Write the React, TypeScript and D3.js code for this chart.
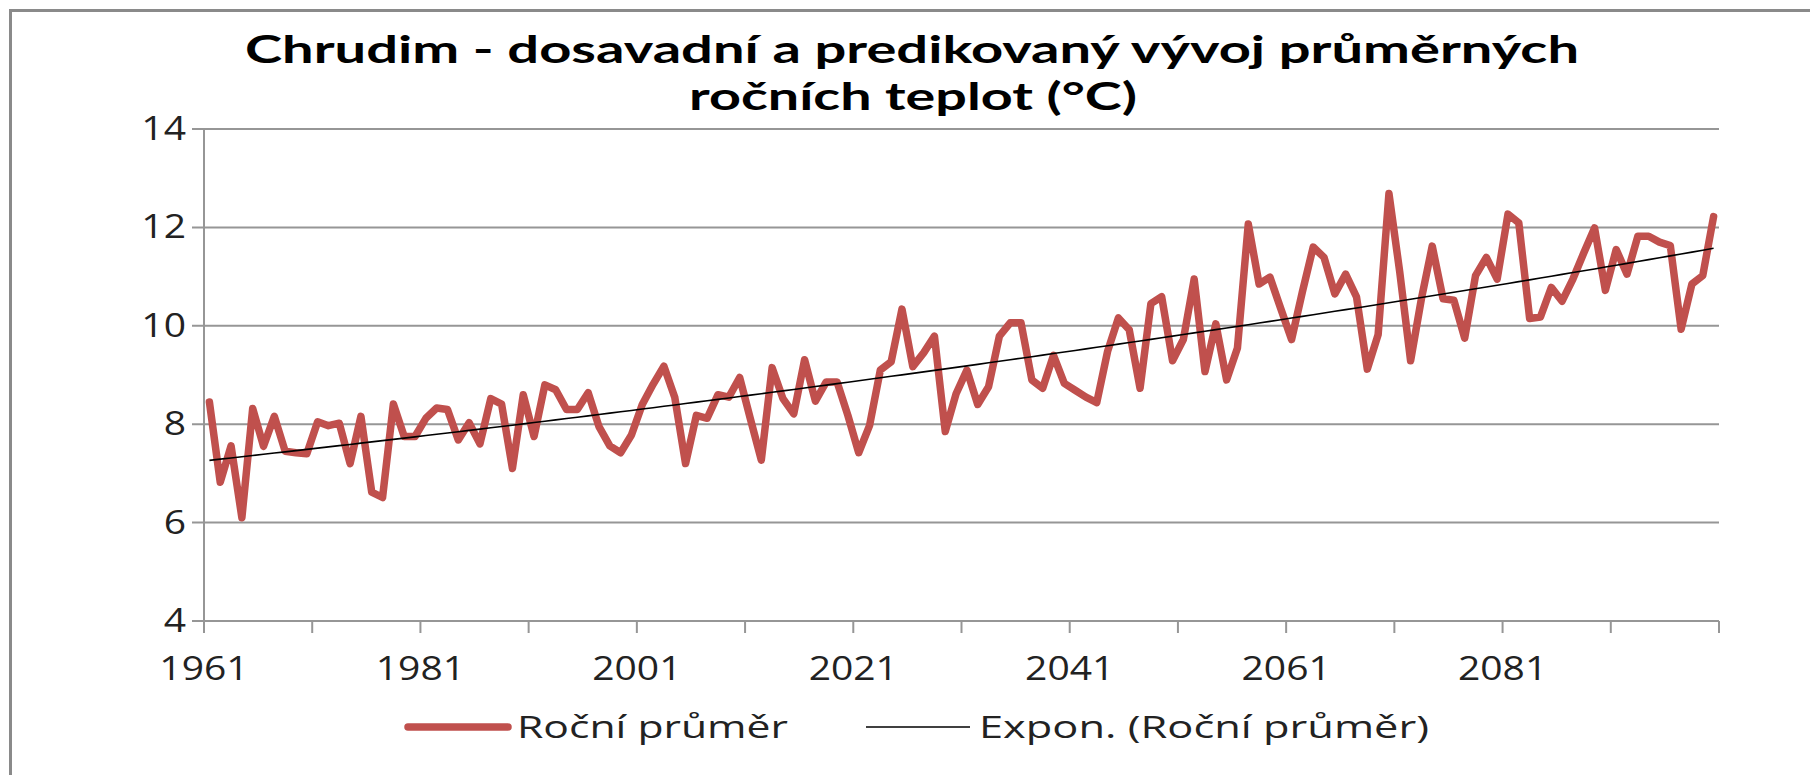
import React from 'react';
import * as d3 from 'd3';

// roční průměry 1961-2100
const years: number[] = d3.range(1961, 2101);
const annualMean: number[] = [
  8.45, 6.82, 7.56, 6.1, 8.32, 7.55, 8.16, 7.45, 7.42, 7.4,
  8.05, 7.97, 8.02, 7.2, 8.16, 6.62, 6.51, 8.41, 7.75, 7.75,
  8.12, 8.33, 8.3, 7.68, 8.03, 7.6, 8.52, 8.41, 7.1, 8.6,
  7.75, 8.8, 8.7, 8.3, 8.3, 8.64, 7.95, 7.56, 7.42, 7.78,
  8.4, 8.81, 9.18, 8.55, 7.2, 8.18, 8.12, 8.6, 8.55, 8.95,
  8.1, 7.27, 9.15, 8.52, 8.21, 9.31, 8.47, 8.86, 8.86, 8.18,
  7.42, 7.97, 9.1, 9.27, 10.34, 9.17, 9.45, 9.79, 7.85, 8.62,
  9.1, 8.4, 8.76, 9.79, 10.06, 10.06, 8.9, 8.73, 9.4, 8.83,
  8.69, 8.55, 8.44, 9.48, 10.16, 9.92, 8.73, 10.45, 10.59, 9.29,
  9.72, 10.95, 9.07, 10.04, 8.9, 9.55, 12.07, 10.85, 10.99, 10.35,
  9.72, 10.69, 11.6, 11.39, 10.65, 11.05, 10.59, 9.12, 9.82, 12.69,
  11.09, 9.29, 10.55, 11.62, 10.55, 10.52, 9.75, 11.02, 11.39, 10.95,
  12.27, 12.09, 10.15, 10.18, 10.78, 10.5, 10.95, 11.48, 11.99, 10.72,
  11.55, 11.05, 11.82, 11.82, 11.7, 11.63, 9.93, 10.85, 11.02, 12.22,
];

const yTicks: number[] = [4, 6, 8, 10, 12, 14];
const xTickYears: number[] = [1961, 1971, 1981, 1991, 2001, 2011, 2021, 2031, 2041, 2051, 2061, 2071, 2081, 2091];
const xLabelYears: number[] = [1961, 1981, 2001, 2021, 2041, 2061, 2081];

const titleLines: string[] = ['Chrudim - dosavadní a predikovaný vývoj průměrných', 'ročních teplot (°C)'];
const seriesName = 'Roční průměr';
const trendName = 'Expon. (Roční průměr)';

const W = 1810;
const H = 775;
const left = 204;
const right = 1719;
const top = 129;
const bottom = 621;
const FONT = '"Open Sans", "DejaVu Sans", sans-serif';
const TITLE_FONT = 'Lato, "Open Sans", sans-serif';
const SX = 1.22;

const App: React.FC = () => {
  const x = d3.scaleBand<number>().domain(years).range([left, right]).paddingInner(0).paddingOuter(0);
  const bw = x.bandwidth();
  const cx = (yr: number) => (x(yr) as number) + bw / 2;
  const y = d3.scaleLinear().domain([4, 14]).range([bottom, top]);

  const pts = years.map((yr, i) => ({ yr, v: annualMean[i], i: i + 1 }));

  // exponenciální trend (jako v Excelu: y = a*e^(b*x), x = 1..n)
  const mx = d3.mean(pts, (d) => d.i) as number;
  const my = d3.mean(pts, (d) => Math.log(d.v)) as number;
  const sxy = d3.sum(pts, (d) => (d.i - mx) * (Math.log(d.v) - my));
  const sxx = d3.sum(pts, (d) => (d.i - mx) ** 2);
  const b = sxy / sxx;
  const a = Math.exp(my - b * mx);
  const trend = pts.map((d) => ({ yr: d.yr, v: a * Math.exp(b * d.i) }));

  const line = d3.line<{ yr: number; v: number }>().x((d) => cx(d.yr)).y((d) => y(d.v));

  const stretched = (tx: number, ty: number) => `translate(${tx},${ty}) scale(${SX},1)`;

  return (
    <svg width={W} height={H} style={{ position: 'absolute', left: 0, top: 0, background: '#fff' }} fontFamily={FONT}>
      <rect x={0} y={0} width={W} height={H} fill="#fff" />
      {/* rámeček */}
      <path d={`M10.5,${H} V10.5 H${W}`} fill="none" stroke="#8a8a8a" strokeWidth={3} />

      {/* titulek */}
      <text x={912} y={63} textAnchor="middle" fontFamily={TITLE_FONT} fontSize={38} fontWeight="bold" fill="#000" textLength={1334} lengthAdjust="spacingAndGlyphs">
        {titleLines[0]}
      </text>
      <text x={913} y={110} textAnchor="middle" fontFamily={TITLE_FONT} fontSize={38} fontWeight="bold" fill="#000" textLength={448} lengthAdjust="spacingAndGlyphs">
        {titleLines[1]}
      </text>

      {/* mřížka + osa Y */}
      {yTicks.map((t) => (
        <g key={t}>
          <line x1={left - 12} x2={right} y1={y(t)} y2={y(t)} stroke="#969696" strokeWidth={2} />
          <text transform={stretched(186, y(t) + 11)} textAnchor="end" fontSize={32} fill="#222">
            {t}
          </text>
        </g>
      ))}
      <line x1={left} x2={left} y1={top} y2={bottom} stroke="#969696" strokeWidth={2} />

      {/* osa X */}
      {xTickYears.map((yr) => (
        <line key={yr} x1={x(yr) as number} x2={x(yr) as number} y1={bottom} y2={bottom + 12} stroke="#969696" strokeWidth={2} />
      ))}
      <line x1={right} x2={right} y1={bottom} y2={bottom + 12} stroke="#969696" strokeWidth={2} />
      {xLabelYears.map((yr) => (
        <text key={yr} transform={stretched(x(yr) as number, 680)} textAnchor="middle" fontSize={32} fill="#222">
          {yr}
        </text>
      ))}

      {/* data */}
      <path d={line(pts) as string} fill="none" stroke="#C0504D" strokeWidth={7.5} strokeLinejoin="round" strokeLinecap="round" />
      <path d={line(trend) as string} fill="none" stroke="#000" strokeWidth={1.6} />

      {/* legenda */}
      <line x1={408} x2={508} y1={727} y2={727} stroke="#C0504D" strokeWidth={7.5} strokeLinecap="round" />
      <text x={517} y={738} fontSize={31} fill="#222" textLength={271} lengthAdjust="spacingAndGlyphs">
        {seriesName}
      </text>
      <line x1={866} x2={970} y1={727} y2={727} stroke="#000" strokeWidth={1.6} />
      <text x={979} y={738} fontSize={31} fill="#222" textLength={450} lengthAdjust="spacingAndGlyphs">
        {trendName}
      </text>
    </svg>
  );
};

export default App;
